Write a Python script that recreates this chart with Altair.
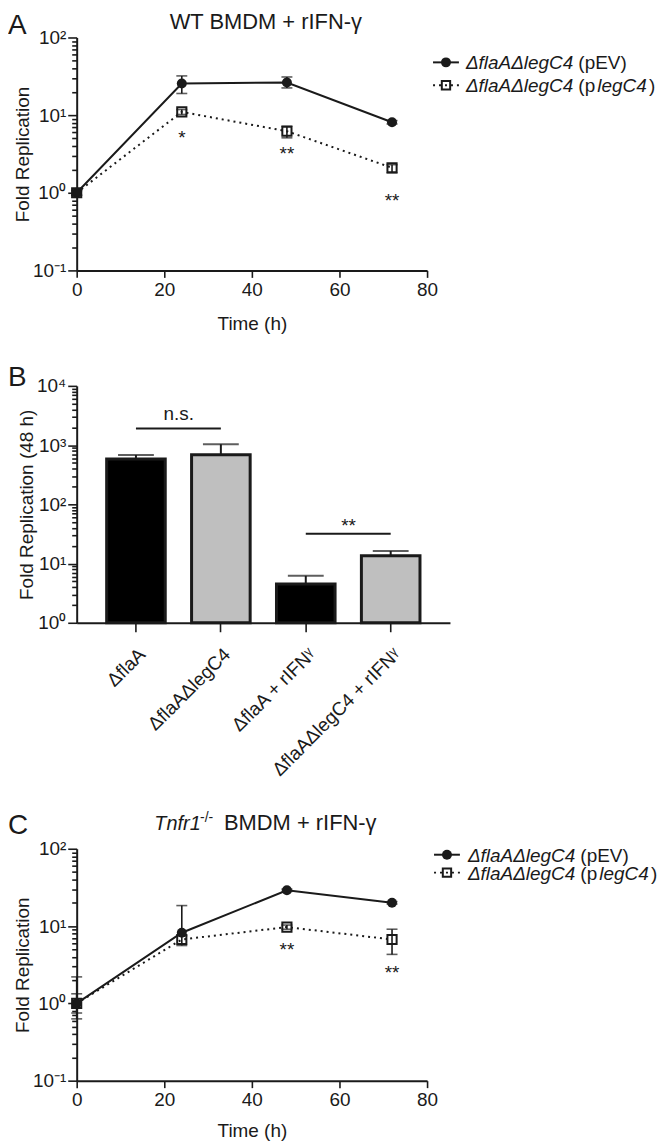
import altair as alt
import pandas as pd

FONT = "Liberation Sans"
INK = "#1a1a1a"

# ---------------- shared ----------------
time_h = [0, 24, 48, 72]
series = ["pEV", "plegC4"]
x_ticks = [0, 20, 40, 60, 80]
line_y_powers = [0.1, 1, 10, 100]
line_y_labels = ["10⁻¹", "10⁰", "10¹", "10²"]
bar_y_powers = [1, 10, 100, 1000, 10000]
bar_y_labels = ["10⁰", "10¹", "10²", "10³", "10⁴"]

# ---------------- panel A: WT BMDM + rIFN-γ ----------------
a_pev = [1.0, 25.5, 26.3, 8.1]
a_pev_lo = [0.93, 19.0, 22.4, 7.7]
a_pev_hi = [1.07, 32.0, 31.0, 8.5]
a_pleg = [1.0, 11.0, 6.2, 2.1]
a_pleg_lo = [0.93, 10.2, 5.1, 1.8]
a_pleg_hi = [1.07, 11.8, 7.2, 2.3]
a_star_t = [24, 48, 72]
a_star_y = [5.9, 3.7, 0.92]
a_star_txt = ["*", "**", "**"]

# ---------------- panel B: 48 h bars ----------------
b_groups = ["ΔflaA", "ΔflaAΔlegC4", "ΔflaA + rIFNᵞ", "ΔflaAΔlegC4 + rIFNᵞ"]
b_strain = ["ΔflaA", "ΔflaAΔlegC4", "ΔflaA", "ΔflaAΔlegC4"]
b_value = [580, 685, 4.5, 13.5]
b_err_hi = [680, 1035, 6.2, 16.3]
b_sig_from = ["ΔflaA", "ΔflaA + rIFNᵞ"]
b_sig_to = ["ΔflaAΔlegC4", "ΔflaAΔlegC4 + rIFNᵞ"]
b_sig_y = [1900, 32]
b_sig_label = ["n.s.", "**"]
b_sig_label_y = [2640, 52]

# ---------------- panel C: Tnfr1-/- BMDM + rIFN-γ ----------------
c_pev = [1.0, 8.2, 29.0, 20.0]
c_pev_lo = [0.63, 8.2, 28.0, 19.3]
c_pev_hi = [2.2, 18.4, 30.0, 20.7]
c_pleg = [1.0, 6.7, 9.7, 6.7]
c_pleg_lo = [0.75, 5.6, 9.1, 4.3]
c_pleg_hi = [1.33, 7.5, 10.3, 9.1]
c_star_t = [48, 72]
c_star_y = [5.6, 2.9]
c_star_txt = ["**", "**"]

legend_italic = "ΔflaAΔlegC4"

ONE = pd.DataFrame({"k": [0]})


def minor_ticks(powers):
    vals = []
    for p in powers[:-1]:
        for m in range(1, 10):
            vals.append(round(m * p, 6))
    vals.append(powers[-1])
    return vals


def log_axis(powers, labels, title, title_pad):
    test = " || ".join(f"datum.value == {p}" for p in powers)
    expr = " : ".join(f"datum.value == {p} ? '{l}'" for p, l in zip(powers, labels)) + " : ''"
    return alt.Axis(values=minor_ticks(powers), labelExpr=expr, title=title,
                    titlePadding=title_pad, labelPadding=2,
                    tickSize={"condition": {"test": test, "value": 9}, "value": 5})


def text_at(text, x, y, size=19, style="normal", align="left"):
    return alt.Chart(ONE).mark_text(text=text, font=FONT, fontSize=size, fontStyle=style,
                                    align=align, baseline="alphabetic", color=INK).encode(
        x=alt.value(x), y=alt.value(y))


def legend(x_line, x_text, y1, y2):
    parts = []
    parts.append(alt.Chart(ONE).mark_rule(color=INK, strokeWidth=2).encode(
        x=alt.value(x_line), x2=alt.value(x_line + 26), y=alt.value(y1)))
    parts.append(alt.Chart(ONE).mark_point(shape="circle", filled=True, size=100, color=INK, opacity=1).encode(
        x=alt.value(x_line + 13), y=alt.value(y1)))
    parts.append(alt.Chart(ONE).mark_rule(color=INK, strokeWidth=2, strokeDash=[2, 4]).encode(
        x=alt.value(x_line), x2=alt.value(x_line + 26), y=alt.value(y2)))
    parts.append(alt.Chart(ONE).mark_point(shape="square", filled=False, size=70, strokeWidth=2,
                                           color=INK, opacity=1).encode(
        x=alt.value(x_line + 13), y=alt.value(y2)))
    parts.append(text_at(legend_italic, x_text, y1 + 7, style="italic"))
    parts.append(text_at("(pEV)", x_text + 113, y1 + 7))
    parts.append(text_at(legend_italic, x_text, y2 + 7, style="italic"))
    parts.append(text_at("(p", x_text + 113, y2 + 7))
    parts.append(text_at("legC4", x_text + 132, y2 + 7, style="italic"))
    parts.append(text_at(")", x_text + 184, y2 + 7))
    return parts


def line_panel(vals, star_t, star_y, star_txt, extra, width, height, xtitle_pad):
    pev, pev_lo, pev_hi, pleg, pleg_lo, pleg_hi = vals
    df = pd.DataFrame({
        "t": time_h + time_h, "v": pev + pleg, "lo": pev_lo + pleg_lo, "hi": pev_hi + pleg_hi,
        "s": [series[0]] * 4 + [series[1]] * 4})
    caps = []
    for t, v, lo, hi, s in zip(df.t, df.v, df.lo, df.hi, df.s):
        caps.append({"t": t, "c": hi})
        if lo < v:
            caps.append({"t": t, "c": lo})
    cap_df = pd.DataFrame(caps)
    star_df = pd.DataFrame({"t": star_t, "y": star_y, "txt": star_txt})

    x_axis = alt.Axis(values=x_ticks, title="Time (h)", tickSize=7, labelPadding=3,
                      titlePadding=xtitle_pad, labelFlush=False)
    y_axis = log_axis(line_y_powers, line_y_labels, "Fold Replication", 0)
    xs = alt.Scale(domain=[0, 80], nice=False)
    ys = alt.Scale(type="log", domain=[0.1, 100], nice=False)
    X = alt.X("t:Q", scale=xs, axis=x_axis)

    base = alt.Chart(df)
    l_pleg = base.transform_filter(alt.datum.s == series[1]).mark_line(
        color=INK, strokeWidth=2, strokeDash=[2, 4]).encode(X, alt.Y("v:Q", scale=ys, axis=y_axis))
    l_pev = base.transform_filter(alt.datum.s == series[0]).mark_line(
        color=INK, strokeWidth=2).encode(X, alt.Y("v:Q", scale=ys, axis=y_axis))
    err = base.mark_rule(color=INK, strokeWidth=1.6).encode(
        X, alt.Y("lo:Q", scale=ys, axis=y_axis), y2="hi:Q")
    cap = alt.Chart(cap_df).mark_tick(orient="horizontal", size=11, thickness=1.6, color=INK).encode(
        X, alt.Y("c:Q", scale=ys, axis=y_axis))
    p_pev = base.transform_filter(alt.datum.s == series[0]).mark_point(
        shape="circle", filled=True, size=100, color=INK, opacity=1).encode(X, alt.Y("v:Q", scale=ys, axis=y_axis))
    p_pleg = base.transform_filter(alt.datum.s == series[1]).mark_point(
        shape="square", filled=False, size=85, strokeWidth=2, color=INK, opacity=1).encode(
        X, alt.Y("v:Q", scale=ys, axis=y_axis))
    stars = alt.Chart(star_df).mark_text(font=FONT, fontSize=19, baseline="alphabetic", dy=11, color=INK).encode(
        X, alt.Y("y:Q", scale=ys, axis=y_axis), text="txt:N")
    return alt.layer(l_pleg, l_pev, err, cap, p_pev, p_pleg, stars, *extra).properties(
        width=width, height=height)


# ---- Panel A ----
a_extra = [
    text_at("A", -69, -4, size=28),
    text_at("WT BMDM + rIFN-γ", 190, -9, size=22, align="center"),
] + legend(358, 391, 25, 48)
panel_a = line_panel([a_pev, a_pev_lo, a_pev_hi, a_pleg, a_pleg_lo, a_pleg_hi],
                     a_star_t, a_star_y, a_star_txt, a_extra, 352, 234, 15)

# ---- Panel C ----
c_extra = [
    text_at("C", -69, -15, size=28),
    text_at("Tnfr1", 78, -19, size=20, style="italic"),
    text_at("-/-", 124, -27, size=14),
    text_at("BMDM + rIFN-γ", 148, -19, size=22),
] + legend(359, 393, 6, 24)
panel_c = line_panel([c_pev, c_pev_lo, c_pev_hi, c_pleg, c_pleg_lo, c_pleg_hi],
                     c_star_t, c_star_y, c_star_txt, c_extra, 352, 233, 12)

# ---- Panel B ----
bdf = pd.DataFrame({"g": b_groups, "strain": b_strain, "v": b_value, "hi": b_err_hi,
                    "base": [bar_y_powers[0]] * len(b_groups)})
sig_df = pd.DataFrame({"a": b_sig_from, "b": b_sig_to, "y": b_sig_y,
                       "lab": b_sig_label, "ly": b_sig_label_y})
bxs = alt.Scale(domain=b_groups, paddingInner=0.31, paddingOuter=0.353)
bys = alt.Scale(type="log", domain=[1, 10000], nice=False)
bx_axis = alt.Axis(title=None, labelAngle=315, tickSize=9, labelPadding=13)
by_axis = log_axis(bar_y_powers, bar_y_labels, "Fold Replication (48 h)", 0)
BX = alt.X("g:N", scale=bxs, axis=bx_axis, sort=b_groups)

bars = alt.Chart(bdf).mark_bar(stroke=INK, strokeWidth=3).encode(
    BX, alt.Y("v:Q", scale=bys, axis=by_axis), y2="base:Q",
    fill=alt.Fill("strain:N", scale=alt.Scale(domain=b_strain[:2], range=["#000000", "#bfbfbf"]), legend=None))
b_err = alt.Chart(bdf).mark_rule(color=INK, strokeWidth=2).encode(
    BX, alt.Y("v:Q", scale=bys, axis=by_axis), y2="hi:Q")
b_cap = alt.Chart(bdf).mark_tick(orient="horizontal", size=36, thickness=2, color=INK).encode(
    BX, alt.Y("hi:Q", scale=bys, axis=by_axis))
sig_rule = alt.Chart(sig_df).mark_rule(color=INK, strokeWidth=2).encode(
    alt.X("a:N", scale=bxs, axis=bx_axis), x2="b:N", y=alt.Y("y:Q", scale=bys, axis=by_axis))
sig_ns = alt.Chart(sig_df).transform_filter(alt.datum.lab == b_sig_label[0]).mark_text(
    font=FONT, fontSize=19, baseline="alphabetic", dx=43, color=INK).encode(
    alt.X("a:N", scale=bxs, axis=bx_axis), alt.Y("ly:Q", scale=bys, axis=by_axis), text="lab:N")
sig_st = alt.Chart(sig_df).transform_filter(alt.datum.lab == b_sig_label[1]).mark_text(
    font=FONT, fontSize=19, baseline="alphabetic", dx=43, dy=11, color=INK).encode(
    alt.X("a:N", scale=bxs, axis=bx_axis), alt.Y("ly:Q", scale=bys, axis=by_axis), text="lab:N")
panel_b = alt.layer(bars, b_err, b_cap, sig_rule, sig_ns, sig_st,
                    text_at("B", -69, 0, size=28)).properties(width=375, height=238)

chart = alt.vconcat(panel_a, panel_b, panel_c, spacing=31).properties(padding=0).configure_view(
    stroke=None).configure_axis(
    grid=False, domainColor=INK, domainWidth=2, tickColor=INK, tickWidth=1.6,
    labelFont=FONT, labelFontSize=19, labelColor=INK,
    titleFont=FONT, titleFontSize=19, titleFontWeight="normal", titleColor=INK)

chart.save("out.html", embed_options={"renderer": "svg", "actions": False})
